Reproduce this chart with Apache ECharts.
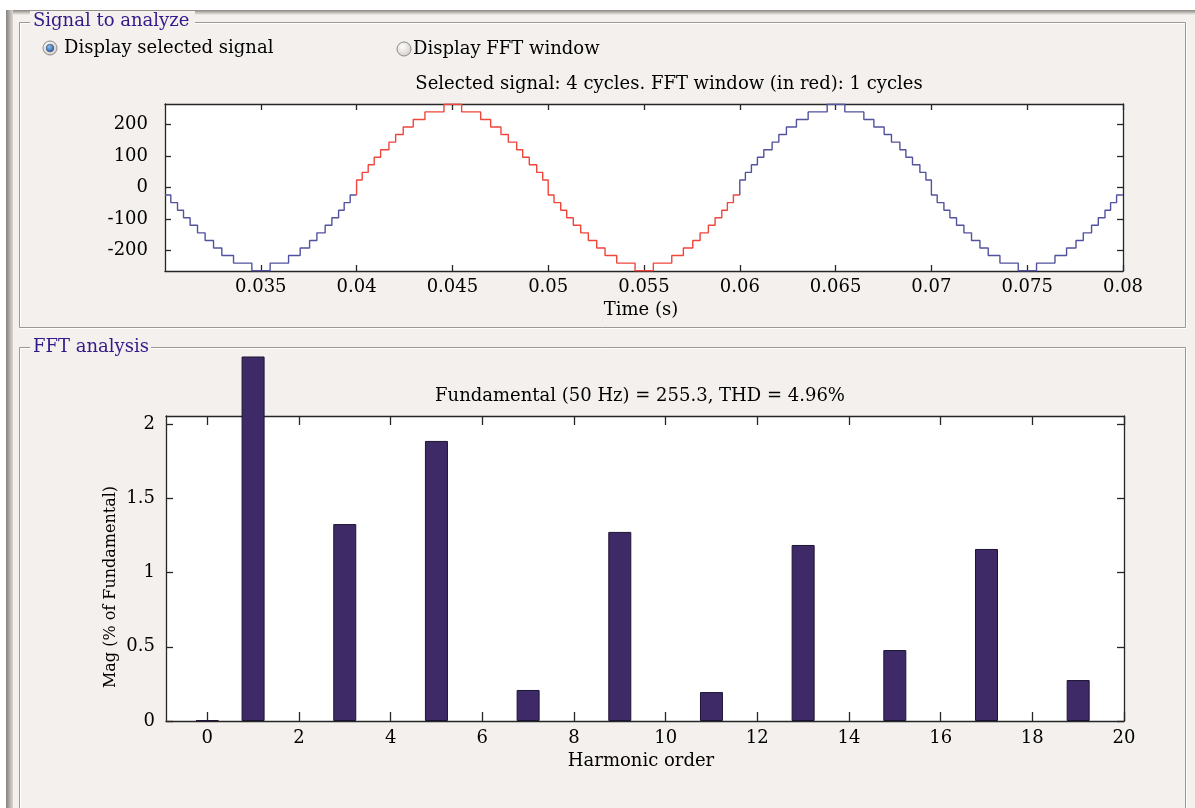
<!DOCTYPE html>
<html>
<head>
<meta charset="utf-8">
<title>FFT analysis</title>
<script src="https://cdn.jsdelivr.net/npm/echarts@6/dist/echarts.min.js"></script>
<style>
  html, body { margin: 0; padding: 0; background: #ffffff; }
  #chart { width: 1195px; height: 808px; }
</style>
</head>
<body>
<div id="chart"></div>
<script>
// ---- Signal: stepped voltage, [time (s), level] at each level change ----
const signalBefore = [
  [0.030000, -24], [0.030303, -48], [0.030653, -72], [0.030966, -96], [0.031311, -120],
  [0.031697, -144], [0.032094, -168], [0.032533, -192], [0.032966, -216], [0.033577, -240],
  [0.034533, -264], [0.035488, -240], [0.036449, -216], [0.037055, -192], [0.037546, -168],
  [0.037927, -144], [0.038360, -120], [0.038710, -96], [0.039060, -72], [0.039352, -48],
  [0.039666, -24], [0.040000, -24]
];
const signalWindow = [
  [0.040000, -24], [0.040000, 24], [0.040292, 48], [0.040606, 72], [0.040919, 96],
  [0.041253, 120], [0.041687, 144], [0.042037, 168], [0.042433, 192], [0.042956, 216],
  [0.043567, 240], [0.044559, 264], [0.045483, 240], [0.046475, 216], [0.046997, 192],
  [0.047535, 168], [0.047916, 144], [0.048355, 120], [0.048668, 96], [0.049013, 72],
  [0.049399, 48], [0.049713, 24], [0.050000, -24], [0.050303, -48], [0.050653, -72],
  [0.050966, -96], [0.051311, -120], [0.051697, -144], [0.052094, -168], [0.052533, -192],
  [0.052966, -216], [0.053577, -240], [0.054533, -264], [0.055488, -240], [0.056449, -216],
  [0.057055, -192], [0.057546, -168], [0.057927, -144], [0.058360, -120], [0.058710, -96],
  [0.059060, -72], [0.059352, -48], [0.059666, -24], [0.060000, -24]
];
const signalAfter = [
  [0.060000, -24], [0.060000, 24], [0.060292, 48], [0.060606, 72], [0.060919, 96],
  [0.061253, 120], [0.061687, 144], [0.062037, 168], [0.062433, 192], [0.062956, 216],
  [0.063567, 240], [0.064559, 264], [0.065483, 240], [0.066475, 216], [0.066997, 192],
  [0.067535, 168], [0.067916, 144], [0.068355, 120], [0.068668, 96], [0.069013, 72],
  [0.069399, 48], [0.069713, 24], [0.070000, -24], [0.070303, -48], [0.070653, -72],
  [0.070966, -96], [0.071311, -120], [0.071697, -144], [0.072094, -168], [0.072533, -192],
  [0.072966, -216], [0.073577, -240], [0.074533, -264], [0.075488, -240], [0.076449, -216],
  [0.077055, -192], [0.077546, -168], [0.077927, -144], [0.078360, -120], [0.078710, -96],
  [0.079060, -72], [0.079352, -48], [0.079666, -24], [0.080000, -24]
];
const timeTicks = [0.035, 0.04, 0.045, 0.05, 0.055, 0.06, 0.065, 0.07, 0.075, 0.08];
const signalTicks = [-200, -100, 0, 100, 200];

// ---- FFT: magnitude of each harmonic, % of fundamental ----
const harmonicOrder = [0, 1, 2, 3, 4, 5, 6, 7, 8, 9, 10, 11, 12, 13, 14, 15, 16, 17, 18, 19];
const harmonicMag = [0.005, 100, 0, 1.327, 0, 1.887, 0, 0.209, 0, 1.274, 0, 0.195, 0, 1.186, 0, 0.478, 0, 1.159, 0, 0.276];
const harmonicTicks = [0, 2, 4, 6, 8, 10, 12, 14, 16, 18, 20];
const magTicks = [0, 0.5, 1, 1.5, 2];

const fundamentalHz = 50;
const fundamentalMag = 255.3;
const thdPercent = 4.96;
const cyclesShown = 4;
const cyclesInWindow = 1;

// ---- layout ----
const FONT = '"DejaVu Serif", "Liberation Serif", serif';
const PANEL_BG = '#f3f0ed';
const TITLE_COLOR = '#34198a';
const AXIS_COLOR = '#262626';

const sigGrid = { left: 165, top: 104, width: 958, height: 167 };
const fftGrid = { left: 166, top: 416, width: 958, height: 305 };
const fftMax = 2.055;
// bars are drawn on a taller grid sharing the same scale, so the fundamental
// bar runs up past the frame to the top of the panel
const barTop = 357;
const barGrid = { left: fftGrid.left, top: barTop, width: fftGrid.width,
                  height: fftGrid.top + fftGrid.height - barTop };
const barMax = fftMax * barGrid.height / fftGrid.height;

const tickLabel = { fontFamily: FONT, fontSize: 18, color: '#000' };

function frameAxis(gridIndex, position, min, max, ticks, len, showLabels, margin, fmt) {
  return {
    type: 'value', gridIndex: gridIndex, position: position, min: min, max: max,
    axisLine: { show: true, onZero: false, lineStyle: { color: AXIS_COLOR, width: 1.3 } },
    axisTick: { show: true, inside: true, length: len, customValues: ticks,
                lineStyle: { color: AXIS_COLOR, width: 1.3 } },
    axisLabel: Object.assign({ show: showLabels, margin: margin, customValues: ticks,
                               formatter: fmt || (v => String(v)) }, tickLabel),
    splitLine: { show: false }
  };
}

function text(x, y, str, opts) {
  opts = opts || {};
  return {
    type: 'text', x: x, y: y, rotation: opts.rotation || 0, z: opts.z || 30,
    style: {
      text: str, fill: opts.fill || '#000',
      font: (opts.size || 18) + 'px ' + FONT,
      align: opts.align || 'center', verticalAlign: 'middle'
    }
  };
}

function etchedBox(x, y, w, h) {
  return [
    { type: 'rect', z: 10, shape: { x: x + 1.5, y: y + 1.5, width: w, height: h },
      style: { fill: null, stroke: '#ffffff', lineWidth: 1 } },
    { type: 'rect', z: 11, shape: { x: x + 0.5, y: y + 0.5, width: w, height: h },
      style: { fill: null, stroke: '#9c9894', lineWidth: 1 } }
  ];
}

function radio(cx, cy, checked) {
  const els = [{
    type: 'circle', z: 30, shape: { cx: cx, cy: cy, r: 7 },
    style: {
      fill: new echarts.graphic.RadialGradient(0.4, 0.35, 0.7, [
        { offset: 0, color: '#ffffff' }, { offset: 1, color: '#cfcbc8' }]),
      stroke: '#8e8b88', lineWidth: 1
    }
  }];
  if (checked) {
    els.push({
      type: 'circle', z: 31, shape: { cx: cx, cy: cy, r: 3.8 },
      style: {
        fill: new echarts.graphic.RadialGradient(0.4, 0.35, 0.7, [
          { offset: 0, color: '#8fc0f0' }, { offset: 1, color: '#25579a' }]),
        stroke: '#1d3f70', lineWidth: 0.6
      }
    });
  }
  return els;
}

const graphics = [].concat(
  // window edges
  [{ type: 'rect', z: 1, shape: { x: 0, y: 0, width: 1195, height: 10 }, style: { fill: '#ffffff' } },
   { type: 'rect', z: 1, shape: { x: 0, y: 0, width: 6, height: 808 }, style: { fill: '#ffffff' } },
   { type: 'rect', z: 2, shape: { x: 6, y: 10, width: 1189, height: 5 },
     style: { fill: new echarts.graphic.LinearGradient(0, 0, 0, 1, [
       { offset: 0, color: '#8a8580' }, { offset: 1, color: PANEL_BG }]) } },
   { type: 'rect', z: 2, shape: { x: 6, y: 10, width: 7, height: 798 },
     style: { fill: new echarts.graphic.LinearGradient(0, 0, 1, 0, [
       { offset: 0, color: '#85807b' }, { offset: 1, color: '#ddd8d3' }]) } }],
  // group boxes
  etchedBox(19, 22, 1166, 305),
  etchedBox(19, 347, 1166, 480),
  [{ type: 'rect', z: 20, shape: { x: 30, y: 11, width: 165, height: 22 }, style: { fill: PANEL_BG } },
   { type: 'rect', z: 20, shape: { x: 30, y: 337, width: 121, height: 21 }, style: { fill: PANEL_BG } }],
  [text(33, 21, 'Signal to analyze', { align: 'left', fill: TITLE_COLOR }),
   text(33, 347, 'FFT analysis', { align: 'left', fill: TITLE_COLOR })],
  // display options
  radio(50, 48, true),
  radio(404, 49, false),
  [text(64, 48, 'Display selected signal', { align: 'left' }),
   text(413, 49, 'Display FFT window', { align: 'left' })],
  // chart titles and axis names
  [text(669, 84, 'Selected signal: ' + cyclesShown + ' cycles. FFT window (in red): ' + cyclesInWindow + ' cycles'),
   text(641, 310, 'Time (s)'),
   text(640, 396, 'Fundamental (' + fundamentalHz + ' Hz) = ' + fundamentalMag + ', THD = ' + thdPercent + '%'),
   text(111, 587, 'Mag (% of Fundamental)', { size: 16, rotation: Math.PI / 2 }),
   text(641, 761, 'Harmonic order')]
);

// only harmonics with a non-zero magnitude get a bar
const barData = [];
harmonicOrder.forEach((h, i) => { if (harmonicMag[i] > 0) barData.push([h, harmonicMag[i]]); });

const chart = echarts.init(document.getElementById('chart'), null, { renderer: 'canvas' });

chart.setOption({
  backgroundColor: PANEL_BG,
  animation: false,
  grid: [
    Object.assign({ show: true, backgroundColor: '#ffffff', borderWidth: 0 }, sigGrid),
    Object.assign({ show: true, backgroundColor: '#ffffff', borderWidth: 0 }, fftGrid),
    Object.assign({ show: false }, barGrid)
  ],
  xAxis: [
    frameAxis(0, 'bottom', 0.03, 0.08, timeTicks, 6, true, 7),
    frameAxis(0, 'top', 0.03, 0.08, timeTicks, 6, false, 0),
    frameAxis(1, 'bottom', -0.9, 20, harmonicTicks, 9, true, 8),
    frameAxis(1, 'top', -0.9, 20, harmonicTicks, 9, false, 0),
    { type: 'value', gridIndex: 2, min: -0.9, max: 20, show: false }
  ],
  yAxis: [
    frameAxis(0, 'left', -265, 265, signalTicks, 6, true, 17),
    frameAxis(0, 'right', -265, 265, signalTicks, 6, false, 0),
    frameAxis(1, 'left', 0, fftMax, magTicks, 7, true, 11),
    frameAxis(1, 'right', 0, fftMax, magTicks, 7, false, 0),
    { type: 'value', gridIndex: 2, min: 0, max: barMax, show: false }
  ],
  graphic: { elements: graphics },
  series: [
    { type: 'line', name: 'signal', xAxisIndex: 0, yAxisIndex: 0, step: 'end',
      data: signalBefore, showSymbol: false, silent: true, z: 3,
      lineStyle: { color: '#52529f', width: 1.4 } },
    { type: 'line', name: 'FFT window', xAxisIndex: 0, yAxisIndex: 0, step: 'end',
      data: signalWindow, showSymbol: false, silent: true, z: 3,
      lineStyle: { color: '#f0453b', width: 1.4 } },
    { type: 'line', name: 'signal', xAxisIndex: 0, yAxisIndex: 0, step: 'end',
      data: signalAfter, showSymbol: false, silent: true, z: 3,
      lineStyle: { color: '#52529f', width: 1.4 } },
    { type: 'bar', name: 'Mag', xAxisIndex: 4, yAxisIndex: 4, barWidth: 23, z: 3,
      data: barData,
      itemStyle: { color: '#3d2a66', borderColor: '#1c1433', borderWidth: 1 } }
  ]
});
</script>
</body>
</html>
